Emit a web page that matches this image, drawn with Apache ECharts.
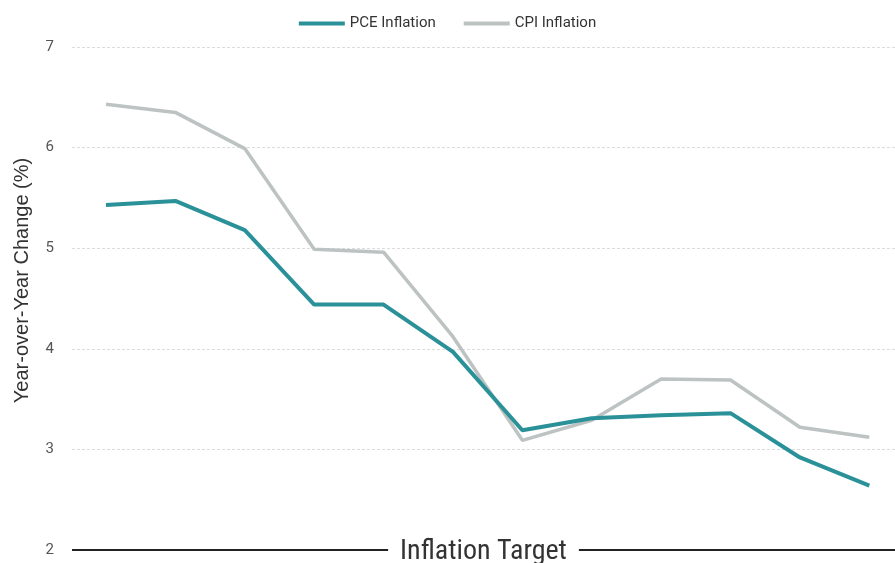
<!DOCTYPE html>
<html>
<head>
<meta charset="utf-8">
<script src="https://cdn.jsdelivr.net/npm/echarts@6/dist/echarts.min.js"></script>
<style>
  html, body { margin: 0; padding: 0; background: #fff; }
  #chart { width: 895px; height: 563px; }
</style>
</head>
<body>
<div id="chart"></div>
<script>
// months (not shown on the axis)
var months = ['Dec 2022', 'Jan 2023', 'Feb 2023', 'Mar 2023', 'Apr 2023', 'May 2023',
              'Jun 2023', 'Jul 2023', 'Aug 2023', 'Sep 2023', 'Oct 2023', 'Nov 2023'];
var pce = [5.43, 5.47, 5.18, 4.44, 4.44, 3.97, 3.19, 3.31, 3.34, 3.36, 2.92, 2.64];
var cpi = [6.43, 6.35, 5.99, 4.99, 4.96, 4.12, 3.09, 3.29, 3.70, 3.69, 3.22, 3.12];
var inflationTarget = 2;

var chart = echarts.init(document.getElementById('chart'));

function pairs(arr) {
    return arr.map(function (v, i) { return [i, v]; });
}

var option = {
    animation: false,
    textStyle: { fontFamily: 'Roboto' },
    legend: {
        top: 11,
        left: 'center',
        itemWidth: 46,
        itemHeight: 4,
        itemGap: 28,
        icon: 'rect',
        textStyle: { fontSize: 15, color: '#333' },
        data: ['PCE Inflation', 'CPI Inflation']
    },
    tooltip: {
        trigger: 'axis',
        formatter: function (params) {
            var s = months[params[0].value[0]];
            params.forEach(function (p) { s += '<br/>' + p.seriesName + ': ' + p.value[1] + '%'; });
            return s;
        }
    },
    grid: { left: 72, right: 0, top: 47, bottom: 13 },
    xAxis: {
        type: 'value',
        min: -0.49,
        max: 11.37,
        axisLine: { show: false },
        axisTick: { show: false },
        axisLabel: { show: false },
        splitLine: { show: false }
    },
    yAxis: {
        type: 'value',
        min: 2,
        max: 7,
        interval: 1,
        name: 'Year-over-Year Change (%)',
        nameLocation: 'middle',
        nameGap: 40,
        nameTextStyle: { fontSize: 20, color: '#333', padding: [0, 0, 0, 36], fontFamily: 'Liberation Sans' },
        axisLine: { show: false },
        axisTick: { show: false },
        axisLabel: { fontSize: 15, color: '#555', margin: 18 },
        splitLine: {
            show: true,
            lineStyle: { color: ['transparent', '#dcdcdc', '#dcdcdc', '#dcdcdc', '#dcdcdc', '#dcdcdc'], type: [3, 2], width: 1 }
        }
    },
    series: [
        {
            name: 'PCE Inflation',
            type: 'line',
            data: pairs(pce),
            showSymbol: false,
            symbol: 'none',
            lineStyle: { color: '#2a9199', width: 4 },
            itemStyle: { color: '#2a9199' },
            z: 3,
            markLine: {
                silent: true,
                symbol: 'none',
                lineStyle: { color: '#222', width: 2, type: 'solid' },
                label: {
                    position: 'middle',
                    distance: 0,
                    verticalAlign: 'middle',
                    offset: [0, 2],
                    formatter: 'Inflation Target',
                    fontSize: 28,
                    color: '#333',
                    backgroundColor: '#fff',
                    padding: [0, 12],
                    fontFamily: 'Liberation Sans Narrow, Roboto Condensed, Roboto'
                },
                data: [{ yAxis: inflationTarget }]
            }
        },
        {
            name: 'CPI Inflation',
            type: 'line',
            data: pairs(cpi),
            showSymbol: false,
            symbol: 'none',
            lineStyle: { color: '#bcc3c2', width: 3.5 },
            itemStyle: { color: '#bcc3c2' },
            z: 2
        }
    ]
};
chart.setOption(option);
window.onresize = function () {
    chart.resize();
};
</script>
</body>
</html>
